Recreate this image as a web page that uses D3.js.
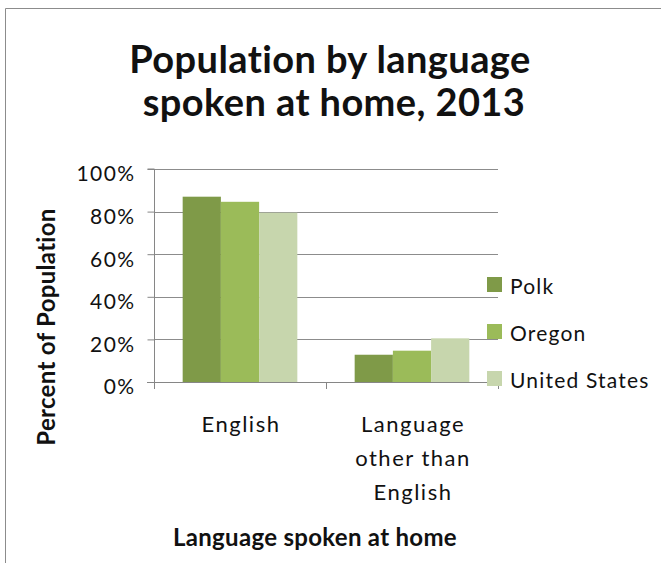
<!DOCTYPE html>
<html>
<head>
<meta charset="utf-8">
<script src="https://cdn.jsdelivr.net/npm/d3@7"></script>
<style>
  html, body { margin: 0; padding: 0; background: #fff; }
  svg { display: block; }
  text {
    font-family: Lato, "Open Sans", sans-serif; fill: #111;
    font-variant-ligatures: none; font-feature-settings: "liga" 0, "clig" 0;
  }
</style>
</head>
<body>
<svg id="chart" width="661" height="563"></svg>
<script>
// Share of population (%) by language spoken at home, 2013
const categories = ["English", "Language other than English"];
const categoryLines = [["English"], ["Language", "other than", "English"]];
const seriesNames = ["Polk", "Oregon", "United States"];
const polk = [87.0, 12.8];
const oregon = [84.6, 14.7];
const unitedStates = [79.5, 20.5];
const yTicks = [0, 20, 40, 60, 80, 100];
const colors = ["#7f9a48", "#9bbb59", "#c7d6ad"];

const seriesValues = [polk, oregon, unitedStates];

const svg = d3.select("#chart");
const W = 661, H = 563;

// outer chart frame (only top and left edges fall within the page)
svg.append("line").attr("x1", 5.5).attr("x2", W).attr("y1", 8.5).attr("y2", 8.5)
  .attr("stroke", "#8c8c8c").attr("stroke-width", 1);
svg.append("line").attr("x1", 5.5).attr("x2", 5.5).attr("y1", 8.5).attr("y2", H)
  .attr("stroke", "#8c8c8c").attr("stroke-width", 1);

// title
const title = svg.append("text").attr("text-anchor", "middle")
  .style("font-weight", "bold").style("font-size", "38px").style("letter-spacing", "0.4px");
title.append("tspan").attr("x", 330).attr("y", 73).text("Population by language");
title.append("tspan").attr("x", 334).attr("y", 116).text("spoken at home, 2013");

const plot = { left: 154, right: 498, top: 169, bottom: 382 };

const x0 = d3.scaleBand().domain(categories).range([plot.left, plot.right]).paddingInner(0).paddingOuter(0);
const groupWidth = x0.bandwidth() * (3 / 4.5);
const x1 = d3.scaleBand().domain(seriesNames).range([0, groupWidth]).padding(0);
const y = d3.scaleLinear().domain([0, 100]).range([plot.bottom, plot.top]);

// gridlines
svg.append("g").selectAll("line").data(yTicks.filter(d => d > 0)).join("line")
  .attr("x1", plot.left).attr("x2", plot.right)
  .attr("y1", d => Math.round(y(d)) + 0.5).attr("y2", d => Math.round(y(d)) + 0.5)
  .attr("stroke", "#8c8c8c").attr("stroke-width", 1);

// bars
const groups = svg.append("g").selectAll("g").data(categories).join("g")
  .attr("transform", c => `translate(${x0(c) + (x0.bandwidth() - groupWidth) / 2},0)`);
groups.selectAll("rect")
  .data((c, i) => seriesNames.map((s, j) => ({ s, j, v: seriesValues[j][i] })))
  .join("rect")
  .attr("x", d => x1(d.s))
  .attr("width", x1.bandwidth())
  .attr("y", d => y(d.v))
  .attr("height", d => y(0) - y(d.v) + 1)
  .attr("fill", d => colors[d.j]);

// y axis
const yAxis = d3.axisLeft(y).tickValues(yTicks).tickSize(7).tickPadding(12)
  .tickFormat(d => d + "%");
const yg = svg.append("g").attr("transform", `translate(${plot.left + 0.5},0)`).call(yAxis);
yg.select(".domain").attr("stroke", "#868686").attr("d", `M-7,${plot.top}H0V${plot.bottom}`);
yg.selectAll(".tick line").attr("stroke", "#868686");
yg.selectAll(".tick text").style("font-size", "21px").style("font-family", "Lato, sans-serif")
  .style("letter-spacing", "1.4px")
  .attr("fill", "#111").attr("dy", "0.57em");

// x axis: zero line with ticks at category boundaries
const xg = svg.append("g");
xg.append("line").attr("x1", plot.left - 7).attr("x2", plot.right)
  .attr("y1", plot.bottom + 0.5).attr("y2", plot.bottom + 0.5)
  .attr("stroke", "#868686");
const boundaries = categories.map(c => x0(c)).concat([x0(categories[categories.length - 1]) + x0.bandwidth()]);
xg.selectAll("line.tick").data(boundaries).join("line").attr("class", "tick")
  .attr("x1", d => Math.round(d) + 0.5).attr("x2", d => Math.round(d) + 0.5)
  .attr("y1", plot.bottom).attr("y2", plot.bottom + 7)
  .attr("stroke", "#868686");

// category labels
categories.forEach((c, i) => {
  const t = svg.append("text").attr("text-anchor", "middle")
    .style("font-size", "22px").style("letter-spacing", "1.5px");
  categoryLines[i].forEach((ln, k) => {
    t.append("tspan").attr("x", x0(c) + x0.bandwidth() / 2 + 1)
      .attr("y", 432 + k * 34).text(ln);
  });
});

// axis titles
svg.append("text").attr("text-anchor", "middle").attr("x", 315).attr("y", 546)
  .style("font-weight", "bold").style("font-size", "24px").style("letter-spacing", "0.3px")
  .text("Language spoken at home");
svg.append("text").attr("text-anchor", "middle")
  .attr("transform", "translate(55,327) rotate(-90)")
  .style("font-weight", "bold").style("font-size", "24px").style("letter-spacing", "0.3px")
  .text("Percent of Population");

// legend
const legend = svg.append("g").selectAll("g").data(seriesNames).join("g")
  .attr("transform", (d, i) => `translate(487,${277 + i * 47})`);
legend.append("rect").attr("width", 15).attr("height", 15).attr("fill", (d, i) => colors[i]);
legend.append("text").attr("x", 23).attr("y", 17)
  .style("font-size", "21px").style("letter-spacing", "1.2px").text(d => d);
</script>
</body>
</html>
